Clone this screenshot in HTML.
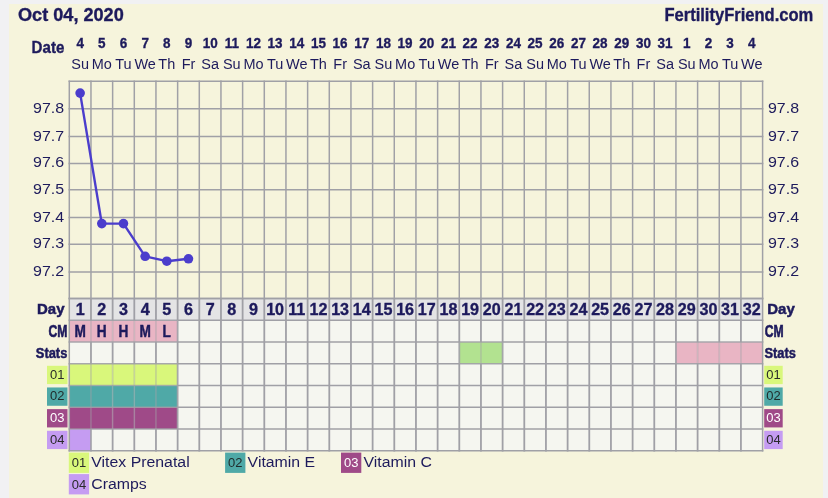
<!DOCTYPE html><html><head><meta charset="utf-8"><style>html,body{margin:0;padding:0}body{width:828px;height:498px;overflow:hidden;background:#f1f1f3;position:relative}svg{position:absolute;left:0;top:0;will-change:transform}text{font-family:"Liberation Sans",sans-serif}</style></head><body>
<svg width="828" height="498" viewBox="0 0 828 498">
<rect x="9" y="4" width="814" height="494" fill="#f6f4dc"/>
<rect x="69.30" y="298.60" width="693.30" height="152.18" fill="#f5f6f0"/>
<rect x="69.30" y="298.60" width="693.30" height="21.74" fill="#e4e4e5"/>
<rect x="69.30" y="320.34" width="21.67" height="21.74" fill="#e9b5c4"/>
<rect x="90.97" y="320.34" width="21.67" height="21.74" fill="#e9b5c4"/>
<rect x="112.63" y="320.34" width="21.67" height="21.74" fill="#e9b5c4"/>
<rect x="134.30" y="320.34" width="21.67" height="21.74" fill="#e9b5c4"/>
<rect x="155.96" y="320.34" width="21.67" height="21.74" fill="#e9b5c4"/>
<rect x="459.28" y="342.08" width="21.67" height="21.74" fill="#b2e290"/>
<rect x="480.95" y="342.08" width="21.67" height="21.74" fill="#b2e290"/>
<rect x="675.94" y="342.08" width="21.67" height="21.74" fill="#e9b5c4"/>
<rect x="697.60" y="342.08" width="21.67" height="21.74" fill="#e9b5c4"/>
<rect x="719.27" y="342.08" width="21.67" height="21.74" fill="#e9b5c4"/>
<rect x="740.93" y="342.08" width="21.67" height="21.74" fill="#e9b5c4"/>
<rect x="69.30" y="363.82" width="21.67" height="21.74" fill="#d9f77b"/>
<rect x="90.97" y="363.82" width="21.67" height="21.74" fill="#d9f77b"/>
<rect x="112.63" y="363.82" width="21.67" height="21.74" fill="#d9f77b"/>
<rect x="134.30" y="363.82" width="21.67" height="21.74" fill="#d9f77b"/>
<rect x="155.96" y="363.82" width="21.67" height="21.74" fill="#d9f77b"/>
<rect x="69.30" y="385.56" width="21.67" height="21.74" fill="#4fa9a7"/>
<rect x="90.97" y="385.56" width="21.67" height="21.74" fill="#4fa9a7"/>
<rect x="112.63" y="385.56" width="21.67" height="21.74" fill="#4fa9a7"/>
<rect x="134.30" y="385.56" width="21.67" height="21.74" fill="#4fa9a7"/>
<rect x="155.96" y="385.56" width="21.67" height="21.74" fill="#4fa9a7"/>
<rect x="69.30" y="407.30" width="21.67" height="21.74" fill="#9f4a88"/>
<rect x="90.97" y="407.30" width="21.67" height="21.74" fill="#9f4a88"/>
<rect x="112.63" y="407.30" width="21.67" height="21.74" fill="#9f4a88"/>
<rect x="134.30" y="407.30" width="21.67" height="21.74" fill="#9f4a88"/>
<rect x="155.96" y="407.30" width="21.67" height="21.74" fill="#9f4a88"/>
<rect x="69.30" y="429.04" width="21.67" height="21.74" fill="#c59cf2"/>
<line x1="68.55" y1="81.30" x2="763.35" y2="81.30" stroke="#a0a0a6" stroke-width="1.5"/>
<line x1="68.55" y1="108.80" x2="763.35" y2="108.80" stroke="#a0a0a6" stroke-width="1.5"/>
<line x1="68.55" y1="136.60" x2="763.35" y2="136.60" stroke="#a0a0a6" stroke-width="1.5"/>
<line x1="68.55" y1="163.40" x2="763.35" y2="163.40" stroke="#a0a0a6" stroke-width="1.5"/>
<line x1="68.55" y1="189.70" x2="763.35" y2="189.70" stroke="#a0a0a6" stroke-width="1.5"/>
<line x1="68.55" y1="217.50" x2="763.35" y2="217.50" stroke="#a0a0a6" stroke-width="1.5"/>
<line x1="68.55" y1="244.30" x2="763.35" y2="244.30" stroke="#a0a0a6" stroke-width="1.5"/>
<line x1="68.55" y1="271.90" x2="763.35" y2="271.90" stroke="#a0a0a6" stroke-width="1.5"/>
<line x1="68.55" y1="298.60" x2="763.35" y2="298.60" stroke="#a0a0a6" stroke-width="1.5"/>
<line x1="69.30" y1="80.55" x2="69.30" y2="298.60" stroke="#a0a0a6" stroke-width="1.5"/>
<line x1="90.97" y1="80.55" x2="90.97" y2="298.60" stroke="#a0a0a6" stroke-width="1.5"/>
<line x1="112.63" y1="80.55" x2="112.63" y2="298.60" stroke="#a0a0a6" stroke-width="1.5"/>
<line x1="134.30" y1="80.55" x2="134.30" y2="298.60" stroke="#a0a0a6" stroke-width="1.5"/>
<line x1="155.96" y1="80.55" x2="155.96" y2="298.60" stroke="#a0a0a6" stroke-width="1.5"/>
<line x1="177.63" y1="80.55" x2="177.63" y2="298.60" stroke="#a0a0a6" stroke-width="1.5"/>
<line x1="199.29" y1="80.55" x2="199.29" y2="298.60" stroke="#a0a0a6" stroke-width="1.5"/>
<line x1="220.96" y1="80.55" x2="220.96" y2="298.60" stroke="#a0a0a6" stroke-width="1.5"/>
<line x1="242.62" y1="80.55" x2="242.62" y2="298.60" stroke="#a0a0a6" stroke-width="1.5"/>
<line x1="264.29" y1="80.55" x2="264.29" y2="298.60" stroke="#a0a0a6" stroke-width="1.5"/>
<line x1="285.96" y1="80.55" x2="285.96" y2="298.60" stroke="#a0a0a6" stroke-width="1.5"/>
<line x1="307.62" y1="80.55" x2="307.62" y2="298.60" stroke="#a0a0a6" stroke-width="1.5"/>
<line x1="329.29" y1="80.55" x2="329.29" y2="298.60" stroke="#a0a0a6" stroke-width="1.5"/>
<line x1="350.95" y1="80.55" x2="350.95" y2="298.60" stroke="#a0a0a6" stroke-width="1.5"/>
<line x1="372.62" y1="80.55" x2="372.62" y2="298.60" stroke="#a0a0a6" stroke-width="1.5"/>
<line x1="394.28" y1="80.55" x2="394.28" y2="298.60" stroke="#a0a0a6" stroke-width="1.5"/>
<line x1="415.95" y1="80.55" x2="415.95" y2="298.60" stroke="#a0a0a6" stroke-width="1.5"/>
<line x1="437.62" y1="80.55" x2="437.62" y2="298.60" stroke="#a0a0a6" stroke-width="1.5"/>
<line x1="459.28" y1="80.55" x2="459.28" y2="298.60" stroke="#a0a0a6" stroke-width="1.5"/>
<line x1="480.95" y1="80.55" x2="480.95" y2="298.60" stroke="#a0a0a6" stroke-width="1.5"/>
<line x1="502.61" y1="80.55" x2="502.61" y2="298.60" stroke="#a0a0a6" stroke-width="1.5"/>
<line x1="524.28" y1="80.55" x2="524.28" y2="298.60" stroke="#a0a0a6" stroke-width="1.5"/>
<line x1="545.94" y1="80.55" x2="545.94" y2="298.60" stroke="#a0a0a6" stroke-width="1.5"/>
<line x1="567.61" y1="80.55" x2="567.61" y2="298.60" stroke="#a0a0a6" stroke-width="1.5"/>
<line x1="589.27" y1="80.55" x2="589.27" y2="298.60" stroke="#a0a0a6" stroke-width="1.5"/>
<line x1="610.94" y1="80.55" x2="610.94" y2="298.60" stroke="#a0a0a6" stroke-width="1.5"/>
<line x1="632.61" y1="80.55" x2="632.61" y2="298.60" stroke="#a0a0a6" stroke-width="1.5"/>
<line x1="654.27" y1="80.55" x2="654.27" y2="298.60" stroke="#a0a0a6" stroke-width="1.5"/>
<line x1="675.94" y1="80.55" x2="675.94" y2="298.60" stroke="#a0a0a6" stroke-width="1.5"/>
<line x1="697.60" y1="80.55" x2="697.60" y2="298.60" stroke="#a0a0a6" stroke-width="1.5"/>
<line x1="719.27" y1="80.55" x2="719.27" y2="298.60" stroke="#a0a0a6" stroke-width="1.5"/>
<line x1="740.93" y1="80.55" x2="740.93" y2="298.60" stroke="#a0a0a6" stroke-width="1.5"/>
<line x1="762.60" y1="80.55" x2="762.60" y2="298.60" stroke="#a0a0a6" stroke-width="1.5"/>
<line x1="68.55" y1="298.60" x2="763.35" y2="298.60" stroke="#a0a0a6" stroke-width="1.5"/>
<line x1="68.55" y1="320.34" x2="177.63" y2="320.34" stroke="#a0a0a6" stroke-width="1.5" stroke-opacity="0.90"/>
<line x1="177.63" y1="320.34" x2="763.35" y2="320.34" stroke="#a0a0a6" stroke-width="1.5"/>
<line x1="68.55" y1="342.08" x2="177.63" y2="342.08" stroke="#a0a0a6" stroke-width="1.5" stroke-opacity="0.90"/>
<line x1="177.63" y1="342.08" x2="459.28" y2="342.08" stroke="#a0a0a6" stroke-width="1.5"/>
<line x1="459.28" y1="342.08" x2="502.61" y2="342.08" stroke="#a0a0a6" stroke-width="1.5" stroke-opacity="0.90"/>
<line x1="502.61" y1="342.08" x2="675.94" y2="342.08" stroke="#a0a0a6" stroke-width="1.5"/>
<line x1="675.94" y1="342.08" x2="763.35" y2="342.08" stroke="#a0a0a6" stroke-width="1.5" stroke-opacity="0.90"/>
<line x1="68.55" y1="363.82" x2="177.63" y2="363.82" stroke="#a0a0a6" stroke-width="1.5" stroke-opacity="0.90"/>
<line x1="177.63" y1="363.82" x2="459.28" y2="363.82" stroke="#a0a0a6" stroke-width="1.5"/>
<line x1="459.28" y1="363.82" x2="502.61" y2="363.82" stroke="#a0a0a6" stroke-width="1.5" stroke-opacity="0.90"/>
<line x1="502.61" y1="363.82" x2="675.94" y2="363.82" stroke="#a0a0a6" stroke-width="1.5"/>
<line x1="675.94" y1="363.82" x2="763.35" y2="363.82" stroke="#a0a0a6" stroke-width="1.5" stroke-opacity="0.90"/>
<line x1="68.55" y1="385.56" x2="177.63" y2="385.56" stroke="#a0a0a6" stroke-width="1.5" stroke-opacity="0.75"/>
<line x1="177.63" y1="385.56" x2="763.35" y2="385.56" stroke="#a0a0a6" stroke-width="1.5"/>
<line x1="68.55" y1="407.30" x2="177.63" y2="407.30" stroke="#a0a0a6" stroke-width="1.5" stroke-opacity="0.75"/>
<line x1="177.63" y1="407.30" x2="763.35" y2="407.30" stroke="#a0a0a6" stroke-width="1.5"/>
<line x1="68.55" y1="429.04" x2="90.97" y2="429.04" stroke="#a0a0a6" stroke-width="1.5" stroke-opacity="0.75"/>
<line x1="90.97" y1="429.04" x2="177.63" y2="429.04" stroke="#a0a0a6" stroke-width="1.5" stroke-opacity="0.90"/>
<line x1="177.63" y1="429.04" x2="763.35" y2="429.04" stroke="#a0a0a6" stroke-width="1.5"/>
<line x1="68.55" y1="450.78" x2="763.35" y2="450.78" stroke="#a0a0a6" stroke-width="1.5"/>
<line x1="69.30" y1="298.60" x2="69.30" y2="451.53" stroke="#a0a0a6" stroke-width="1.5"/>
<line x1="90.97" y1="298.60" x2="90.97" y2="320.34" stroke="#a0a0a6" stroke-width="1.8"/>
<line x1="90.97" y1="320.34" x2="90.97" y2="342.08" stroke="#a0a0a6" stroke-width="1.8" stroke-opacity="0.40"/>
<line x1="90.97" y1="342.08" x2="90.97" y2="363.82" stroke="#a0a0a6" stroke-width="1.8"/>
<line x1="90.97" y1="363.82" x2="90.97" y2="429.04" stroke="#a0a0a6" stroke-width="1.8" stroke-opacity="0.40"/>
<line x1="90.97" y1="429.04" x2="90.97" y2="451.53" stroke="#a0a0a6" stroke-width="1.8" stroke-opacity="0.90"/>
<line x1="112.63" y1="298.60" x2="112.63" y2="320.34" stroke="#a0a0a6" stroke-width="1.8"/>
<line x1="112.63" y1="320.34" x2="112.63" y2="342.08" stroke="#a0a0a6" stroke-width="1.8" stroke-opacity="0.40"/>
<line x1="112.63" y1="342.08" x2="112.63" y2="363.82" stroke="#a0a0a6" stroke-width="1.8"/>
<line x1="112.63" y1="363.82" x2="112.63" y2="429.04" stroke="#a0a0a6" stroke-width="1.8" stroke-opacity="0.40"/>
<line x1="112.63" y1="429.04" x2="112.63" y2="451.53" stroke="#a0a0a6" stroke-width="1.8"/>
<line x1="134.30" y1="298.60" x2="134.30" y2="320.34" stroke="#a0a0a6" stroke-width="1.8"/>
<line x1="134.30" y1="320.34" x2="134.30" y2="342.08" stroke="#a0a0a6" stroke-width="1.8" stroke-opacity="0.40"/>
<line x1="134.30" y1="342.08" x2="134.30" y2="363.82" stroke="#a0a0a6" stroke-width="1.8"/>
<line x1="134.30" y1="363.82" x2="134.30" y2="429.04" stroke="#a0a0a6" stroke-width="1.8" stroke-opacity="0.40"/>
<line x1="134.30" y1="429.04" x2="134.30" y2="451.53" stroke="#a0a0a6" stroke-width="1.8"/>
<line x1="155.96" y1="298.60" x2="155.96" y2="320.34" stroke="#a0a0a6" stroke-width="1.8"/>
<line x1="155.96" y1="320.34" x2="155.96" y2="342.08" stroke="#a0a0a6" stroke-width="1.8" stroke-opacity="0.40"/>
<line x1="155.96" y1="342.08" x2="155.96" y2="363.82" stroke="#a0a0a6" stroke-width="1.8"/>
<line x1="155.96" y1="363.82" x2="155.96" y2="429.04" stroke="#a0a0a6" stroke-width="1.8" stroke-opacity="0.40"/>
<line x1="155.96" y1="429.04" x2="155.96" y2="451.53" stroke="#a0a0a6" stroke-width="1.8"/>
<line x1="177.63" y1="298.60" x2="177.63" y2="320.34" stroke="#a0a0a6" stroke-width="1.8"/>
<line x1="177.63" y1="320.34" x2="177.63" y2="342.08" stroke="#a0a0a6" stroke-width="1.8" stroke-opacity="0.90"/>
<line x1="177.63" y1="342.08" x2="177.63" y2="363.82" stroke="#a0a0a6" stroke-width="1.8"/>
<line x1="177.63" y1="363.82" x2="177.63" y2="429.04" stroke="#a0a0a6" stroke-width="1.8" stroke-opacity="0.90"/>
<line x1="177.63" y1="429.04" x2="177.63" y2="451.53" stroke="#a0a0a6" stroke-width="1.8"/>
<line x1="199.29" y1="298.60" x2="199.29" y2="451.53" stroke="#a0a0a6" stroke-width="1.8"/>
<line x1="220.96" y1="298.60" x2="220.96" y2="451.53" stroke="#a0a0a6" stroke-width="1.8"/>
<line x1="242.62" y1="298.60" x2="242.62" y2="451.53" stroke="#a0a0a6" stroke-width="1.8"/>
<line x1="264.29" y1="298.60" x2="264.29" y2="451.53" stroke="#a0a0a6" stroke-width="1.8"/>
<line x1="285.96" y1="298.60" x2="285.96" y2="451.53" stroke="#a0a0a6" stroke-width="1.8"/>
<line x1="307.62" y1="298.60" x2="307.62" y2="451.53" stroke="#a0a0a6" stroke-width="1.8"/>
<line x1="329.29" y1="298.60" x2="329.29" y2="451.53" stroke="#a0a0a6" stroke-width="1.8"/>
<line x1="350.95" y1="298.60" x2="350.95" y2="451.53" stroke="#a0a0a6" stroke-width="1.8"/>
<line x1="372.62" y1="298.60" x2="372.62" y2="451.53" stroke="#a0a0a6" stroke-width="1.8"/>
<line x1="394.28" y1="298.60" x2="394.28" y2="451.53" stroke="#a0a0a6" stroke-width="1.8"/>
<line x1="415.95" y1="298.60" x2="415.95" y2="451.53" stroke="#a0a0a6" stroke-width="1.8"/>
<line x1="437.62" y1="298.60" x2="437.62" y2="451.53" stroke="#a0a0a6" stroke-width="1.8"/>
<line x1="459.28" y1="298.60" x2="459.28" y2="342.08" stroke="#a0a0a6" stroke-width="1.8"/>
<line x1="459.28" y1="342.08" x2="459.28" y2="363.82" stroke="#a0a0a6" stroke-width="1.8" stroke-opacity="0.90"/>
<line x1="459.28" y1="363.82" x2="459.28" y2="451.53" stroke="#a0a0a6" stroke-width="1.8"/>
<line x1="480.95" y1="298.60" x2="480.95" y2="342.08" stroke="#a0a0a6" stroke-width="1.8"/>
<line x1="480.95" y1="342.08" x2="480.95" y2="363.82" stroke="#a0a0a6" stroke-width="1.8" stroke-opacity="0.40"/>
<line x1="480.95" y1="363.82" x2="480.95" y2="451.53" stroke="#a0a0a6" stroke-width="1.8"/>
<line x1="502.61" y1="298.60" x2="502.61" y2="342.08" stroke="#a0a0a6" stroke-width="1.8"/>
<line x1="502.61" y1="342.08" x2="502.61" y2="363.82" stroke="#a0a0a6" stroke-width="1.8" stroke-opacity="0.90"/>
<line x1="502.61" y1="363.82" x2="502.61" y2="451.53" stroke="#a0a0a6" stroke-width="1.8"/>
<line x1="524.28" y1="298.60" x2="524.28" y2="451.53" stroke="#a0a0a6" stroke-width="1.8"/>
<line x1="545.94" y1="298.60" x2="545.94" y2="451.53" stroke="#a0a0a6" stroke-width="1.8"/>
<line x1="567.61" y1="298.60" x2="567.61" y2="451.53" stroke="#a0a0a6" stroke-width="1.8"/>
<line x1="589.27" y1="298.60" x2="589.27" y2="451.53" stroke="#a0a0a6" stroke-width="1.8"/>
<line x1="610.94" y1="298.60" x2="610.94" y2="451.53" stroke="#a0a0a6" stroke-width="1.8"/>
<line x1="632.61" y1="298.60" x2="632.61" y2="451.53" stroke="#a0a0a6" stroke-width="1.8"/>
<line x1="654.27" y1="298.60" x2="654.27" y2="451.53" stroke="#a0a0a6" stroke-width="1.8"/>
<line x1="675.94" y1="298.60" x2="675.94" y2="342.08" stroke="#a0a0a6" stroke-width="1.8"/>
<line x1="675.94" y1="342.08" x2="675.94" y2="363.82" stroke="#a0a0a6" stroke-width="1.8" stroke-opacity="0.90"/>
<line x1="675.94" y1="363.82" x2="675.94" y2="451.53" stroke="#a0a0a6" stroke-width="1.8"/>
<line x1="697.60" y1="298.60" x2="697.60" y2="342.08" stroke="#a0a0a6" stroke-width="1.8"/>
<line x1="697.60" y1="342.08" x2="697.60" y2="363.82" stroke="#a0a0a6" stroke-width="1.8" stroke-opacity="0.40"/>
<line x1="697.60" y1="363.82" x2="697.60" y2="451.53" stroke="#a0a0a6" stroke-width="1.8"/>
<line x1="719.27" y1="298.60" x2="719.27" y2="342.08" stroke="#a0a0a6" stroke-width="1.8"/>
<line x1="719.27" y1="342.08" x2="719.27" y2="363.82" stroke="#a0a0a6" stroke-width="1.8" stroke-opacity="0.40"/>
<line x1="719.27" y1="363.82" x2="719.27" y2="451.53" stroke="#a0a0a6" stroke-width="1.8"/>
<line x1="740.93" y1="298.60" x2="740.93" y2="342.08" stroke="#a0a0a6" stroke-width="1.8"/>
<line x1="740.93" y1="342.08" x2="740.93" y2="363.82" stroke="#a0a0a6" stroke-width="1.8" stroke-opacity="0.40"/>
<line x1="740.93" y1="363.82" x2="740.93" y2="451.53" stroke="#a0a0a6" stroke-width="1.8"/>
<line x1="762.60" y1="298.60" x2="762.60" y2="451.53" stroke="#a0a0a6" stroke-width="1.5"/>
<polyline points="80.13,93.10 101.80,223.60 123.46,223.60 145.13,256.30 166.80,261.20 188.46,258.80" fill="none" stroke="#4b3dcc" stroke-width="2.4" stroke-linejoin="round"/>
<circle cx="80.13" cy="93.10" r="4.8" fill="#4b3dcc"/>
<circle cx="101.80" cy="223.60" r="4.8" fill="#4b3dcc"/>
<circle cx="123.46" cy="223.60" r="4.8" fill="#4b3dcc"/>
<circle cx="145.13" cy="256.30" r="4.8" fill="#4b3dcc"/>
<circle cx="166.80" cy="261.20" r="4.8" fill="#4b3dcc"/>
<circle cx="188.46" cy="258.80" r="4.8" fill="#4b3dcc"/>
<text transform="translate(18.00 21.30) scale(1.0130 1)" font-size="17.90" font-weight="bold" text-anchor="start" fill="#1d1a5c" stroke="#1d1a5c" stroke-width="0.35">Oct 04, 2020</text>
<text transform="translate(813.30 21.40) scale(0.9400 1)" font-size="17.60" font-weight="bold" text-anchor="end" fill="#1d1a5c" stroke="#1d1a5c" stroke-width="0.35">FertilityFriend.com</text>
<text transform="translate(64.40 52.80) scale(0.9120 1)" font-size="16.60" font-weight="bold" text-anchor="end" fill="#1d1a5c" stroke="#1d1a5c" stroke-width="0.35">Date</text>
<text transform="translate(80.13 47.50) scale(0.8700 1)" font-size="15.50" font-weight="bold" text-anchor="middle" fill="#1d1a5c" stroke="#1d1a5c" stroke-width="0.35">4</text>
<text transform="translate(80.13 68.80) scale(0.9530 1)" font-size="15.20" font-weight="normal" text-anchor="middle" fill="#1d1a5c">Su</text>
<text transform="translate(101.80 47.50) scale(0.8700 1)" font-size="15.50" font-weight="bold" text-anchor="middle" fill="#1d1a5c" stroke="#1d1a5c" stroke-width="0.35">5</text>
<text transform="translate(101.80 68.80) scale(0.9530 1)" font-size="15.20" font-weight="normal" text-anchor="middle" fill="#1d1a5c">Mo</text>
<text transform="translate(123.46 47.50) scale(0.8700 1)" font-size="15.50" font-weight="bold" text-anchor="middle" fill="#1d1a5c" stroke="#1d1a5c" stroke-width="0.35">6</text>
<text transform="translate(123.46 68.80) scale(0.9530 1)" font-size="15.20" font-weight="normal" text-anchor="middle" fill="#1d1a5c">Tu</text>
<text transform="translate(145.13 47.50) scale(0.8700 1)" font-size="15.50" font-weight="bold" text-anchor="middle" fill="#1d1a5c" stroke="#1d1a5c" stroke-width="0.35">7</text>
<text transform="translate(145.13 68.80) scale(0.9530 1)" font-size="15.20" font-weight="normal" text-anchor="middle" fill="#1d1a5c">We</text>
<text transform="translate(166.80 47.50) scale(0.8700 1)" font-size="15.50" font-weight="bold" text-anchor="middle" fill="#1d1a5c" stroke="#1d1a5c" stroke-width="0.35">8</text>
<text transform="translate(166.80 68.80) scale(0.9530 1)" font-size="15.20" font-weight="normal" text-anchor="middle" fill="#1d1a5c">Th</text>
<text transform="translate(188.46 47.50) scale(0.8700 1)" font-size="15.50" font-weight="bold" text-anchor="middle" fill="#1d1a5c" stroke="#1d1a5c" stroke-width="0.35">9</text>
<text transform="translate(188.46 68.80) scale(0.9530 1)" font-size="15.20" font-weight="normal" text-anchor="middle" fill="#1d1a5c">Fr</text>
<text transform="translate(210.13 47.50) scale(0.8700 1)" font-size="15.50" font-weight="bold" text-anchor="middle" fill="#1d1a5c" stroke="#1d1a5c" stroke-width="0.35">10</text>
<text transform="translate(210.13 68.80) scale(0.9530 1)" font-size="15.20" font-weight="normal" text-anchor="middle" fill="#1d1a5c">Sa</text>
<text transform="translate(231.79 47.50) scale(0.8700 1)" font-size="15.50" font-weight="bold" text-anchor="middle" fill="#1d1a5c" stroke="#1d1a5c" stroke-width="0.35">11</text>
<text transform="translate(231.79 68.80) scale(0.9530 1)" font-size="15.20" font-weight="normal" text-anchor="middle" fill="#1d1a5c">Su</text>
<text transform="translate(253.46 47.50) scale(0.8700 1)" font-size="15.50" font-weight="bold" text-anchor="middle" fill="#1d1a5c" stroke="#1d1a5c" stroke-width="0.35">12</text>
<text transform="translate(253.46 68.80) scale(0.9530 1)" font-size="15.20" font-weight="normal" text-anchor="middle" fill="#1d1a5c">Mo</text>
<text transform="translate(275.12 47.50) scale(0.8700 1)" font-size="15.50" font-weight="bold" text-anchor="middle" fill="#1d1a5c" stroke="#1d1a5c" stroke-width="0.35">13</text>
<text transform="translate(275.12 68.80) scale(0.9530 1)" font-size="15.20" font-weight="normal" text-anchor="middle" fill="#1d1a5c">Tu</text>
<text transform="translate(296.79 47.50) scale(0.8700 1)" font-size="15.50" font-weight="bold" text-anchor="middle" fill="#1d1a5c" stroke="#1d1a5c" stroke-width="0.35">14</text>
<text transform="translate(296.79 68.80) scale(0.9530 1)" font-size="15.20" font-weight="normal" text-anchor="middle" fill="#1d1a5c">We</text>
<text transform="translate(318.45 47.50) scale(0.8700 1)" font-size="15.50" font-weight="bold" text-anchor="middle" fill="#1d1a5c" stroke="#1d1a5c" stroke-width="0.35">15</text>
<text transform="translate(318.45 68.80) scale(0.9530 1)" font-size="15.20" font-weight="normal" text-anchor="middle" fill="#1d1a5c">Th</text>
<text transform="translate(340.12 47.50) scale(0.8700 1)" font-size="15.50" font-weight="bold" text-anchor="middle" fill="#1d1a5c" stroke="#1d1a5c" stroke-width="0.35">16</text>
<text transform="translate(340.12 68.80) scale(0.9530 1)" font-size="15.20" font-weight="normal" text-anchor="middle" fill="#1d1a5c">Fr</text>
<text transform="translate(361.79 47.50) scale(0.8700 1)" font-size="15.50" font-weight="bold" text-anchor="middle" fill="#1d1a5c" stroke="#1d1a5c" stroke-width="0.35">17</text>
<text transform="translate(361.79 68.80) scale(0.9530 1)" font-size="15.20" font-weight="normal" text-anchor="middle" fill="#1d1a5c">Sa</text>
<text transform="translate(383.45 47.50) scale(0.8700 1)" font-size="15.50" font-weight="bold" text-anchor="middle" fill="#1d1a5c" stroke="#1d1a5c" stroke-width="0.35">18</text>
<text transform="translate(383.45 68.80) scale(0.9530 1)" font-size="15.20" font-weight="normal" text-anchor="middle" fill="#1d1a5c">Su</text>
<text transform="translate(405.12 47.50) scale(0.8700 1)" font-size="15.50" font-weight="bold" text-anchor="middle" fill="#1d1a5c" stroke="#1d1a5c" stroke-width="0.35">19</text>
<text transform="translate(405.12 68.80) scale(0.9530 1)" font-size="15.20" font-weight="normal" text-anchor="middle" fill="#1d1a5c">Mo</text>
<text transform="translate(426.78 47.50) scale(0.8700 1)" font-size="15.50" font-weight="bold" text-anchor="middle" fill="#1d1a5c" stroke="#1d1a5c" stroke-width="0.35">20</text>
<text transform="translate(426.78 68.80) scale(0.9530 1)" font-size="15.20" font-weight="normal" text-anchor="middle" fill="#1d1a5c">Tu</text>
<text transform="translate(448.45 47.50) scale(0.8700 1)" font-size="15.50" font-weight="bold" text-anchor="middle" fill="#1d1a5c" stroke="#1d1a5c" stroke-width="0.35">21</text>
<text transform="translate(448.45 68.80) scale(0.9530 1)" font-size="15.20" font-weight="normal" text-anchor="middle" fill="#1d1a5c">We</text>
<text transform="translate(470.11 47.50) scale(0.8700 1)" font-size="15.50" font-weight="bold" text-anchor="middle" fill="#1d1a5c" stroke="#1d1a5c" stroke-width="0.35">22</text>
<text transform="translate(470.11 68.80) scale(0.9530 1)" font-size="15.20" font-weight="normal" text-anchor="middle" fill="#1d1a5c">Th</text>
<text transform="translate(491.78 47.50) scale(0.8700 1)" font-size="15.50" font-weight="bold" text-anchor="middle" fill="#1d1a5c" stroke="#1d1a5c" stroke-width="0.35">23</text>
<text transform="translate(491.78 68.80) scale(0.9530 1)" font-size="15.20" font-weight="normal" text-anchor="middle" fill="#1d1a5c">Fr</text>
<text transform="translate(513.45 47.50) scale(0.8700 1)" font-size="15.50" font-weight="bold" text-anchor="middle" fill="#1d1a5c" stroke="#1d1a5c" stroke-width="0.35">24</text>
<text transform="translate(513.45 68.80) scale(0.9530 1)" font-size="15.20" font-weight="normal" text-anchor="middle" fill="#1d1a5c">Sa</text>
<text transform="translate(535.11 47.50) scale(0.8700 1)" font-size="15.50" font-weight="bold" text-anchor="middle" fill="#1d1a5c" stroke="#1d1a5c" stroke-width="0.35">25</text>
<text transform="translate(535.11 68.80) scale(0.9530 1)" font-size="15.20" font-weight="normal" text-anchor="middle" fill="#1d1a5c">Su</text>
<text transform="translate(556.78 47.50) scale(0.8700 1)" font-size="15.50" font-weight="bold" text-anchor="middle" fill="#1d1a5c" stroke="#1d1a5c" stroke-width="0.35">26</text>
<text transform="translate(556.78 68.80) scale(0.9530 1)" font-size="15.20" font-weight="normal" text-anchor="middle" fill="#1d1a5c">Mo</text>
<text transform="translate(578.44 47.50) scale(0.8700 1)" font-size="15.50" font-weight="bold" text-anchor="middle" fill="#1d1a5c" stroke="#1d1a5c" stroke-width="0.35">27</text>
<text transform="translate(578.44 68.80) scale(0.9530 1)" font-size="15.20" font-weight="normal" text-anchor="middle" fill="#1d1a5c">Tu</text>
<text transform="translate(600.11 47.50) scale(0.8700 1)" font-size="15.50" font-weight="bold" text-anchor="middle" fill="#1d1a5c" stroke="#1d1a5c" stroke-width="0.35">28</text>
<text transform="translate(600.11 68.80) scale(0.9530 1)" font-size="15.20" font-weight="normal" text-anchor="middle" fill="#1d1a5c">We</text>
<text transform="translate(621.77 47.50) scale(0.8700 1)" font-size="15.50" font-weight="bold" text-anchor="middle" fill="#1d1a5c" stroke="#1d1a5c" stroke-width="0.35">29</text>
<text transform="translate(621.77 68.80) scale(0.9530 1)" font-size="15.20" font-weight="normal" text-anchor="middle" fill="#1d1a5c">Th</text>
<text transform="translate(643.44 47.50) scale(0.8700 1)" font-size="15.50" font-weight="bold" text-anchor="middle" fill="#1d1a5c" stroke="#1d1a5c" stroke-width="0.35">30</text>
<text transform="translate(643.44 68.80) scale(0.9530 1)" font-size="15.20" font-weight="normal" text-anchor="middle" fill="#1d1a5c">Fr</text>
<text transform="translate(665.10 47.50) scale(0.8700 1)" font-size="15.50" font-weight="bold" text-anchor="middle" fill="#1d1a5c" stroke="#1d1a5c" stroke-width="0.35">31</text>
<text transform="translate(665.10 68.80) scale(0.9530 1)" font-size="15.20" font-weight="normal" text-anchor="middle" fill="#1d1a5c">Sa</text>
<text transform="translate(686.77 47.50) scale(0.8700 1)" font-size="15.50" font-weight="bold" text-anchor="middle" fill="#1d1a5c" stroke="#1d1a5c" stroke-width="0.35">1</text>
<text transform="translate(686.77 68.80) scale(0.9530 1)" font-size="15.20" font-weight="normal" text-anchor="middle" fill="#1d1a5c">Su</text>
<text transform="translate(708.44 47.50) scale(0.8700 1)" font-size="15.50" font-weight="bold" text-anchor="middle" fill="#1d1a5c" stroke="#1d1a5c" stroke-width="0.35">2</text>
<text transform="translate(708.44 68.80) scale(0.9530 1)" font-size="15.20" font-weight="normal" text-anchor="middle" fill="#1d1a5c">Mo</text>
<text transform="translate(730.10 47.50) scale(0.8700 1)" font-size="15.50" font-weight="bold" text-anchor="middle" fill="#1d1a5c" stroke="#1d1a5c" stroke-width="0.35">3</text>
<text transform="translate(730.10 68.80) scale(0.9530 1)" font-size="15.20" font-weight="normal" text-anchor="middle" fill="#1d1a5c">Tu</text>
<text transform="translate(751.77 47.50) scale(0.8700 1)" font-size="15.50" font-weight="bold" text-anchor="middle" fill="#1d1a5c" stroke="#1d1a5c" stroke-width="0.35">4</text>
<text transform="translate(751.77 68.80) scale(0.9530 1)" font-size="15.20" font-weight="normal" text-anchor="middle" fill="#1d1a5c">We</text>
<text transform="translate(64.10 112.80) scale(1.0500 1)" font-size="15.20" font-weight="normal" text-anchor="end" fill="#1d1a5c">97.8</text>
<text transform="translate(768.00 112.80) scale(1.0500 1)" font-size="15.20" font-weight="normal" text-anchor="start" fill="#1d1a5c">97.8</text>
<text transform="translate(64.10 140.60) scale(1.0500 1)" font-size="15.20" font-weight="normal" text-anchor="end" fill="#1d1a5c">97.7</text>
<text transform="translate(768.00 140.60) scale(1.0500 1)" font-size="15.20" font-weight="normal" text-anchor="start" fill="#1d1a5c">97.7</text>
<text transform="translate(64.10 167.40) scale(1.0500 1)" font-size="15.20" font-weight="normal" text-anchor="end" fill="#1d1a5c">97.6</text>
<text transform="translate(768.00 167.40) scale(1.0500 1)" font-size="15.20" font-weight="normal" text-anchor="start" fill="#1d1a5c">97.6</text>
<text transform="translate(64.10 193.70) scale(1.0500 1)" font-size="15.20" font-weight="normal" text-anchor="end" fill="#1d1a5c">97.5</text>
<text transform="translate(768.00 193.70) scale(1.0500 1)" font-size="15.20" font-weight="normal" text-anchor="start" fill="#1d1a5c">97.5</text>
<text transform="translate(64.10 221.50) scale(1.0500 1)" font-size="15.20" font-weight="normal" text-anchor="end" fill="#1d1a5c">97.4</text>
<text transform="translate(768.00 221.50) scale(1.0500 1)" font-size="15.20" font-weight="normal" text-anchor="start" fill="#1d1a5c">97.4</text>
<text transform="translate(64.10 248.30) scale(1.0500 1)" font-size="15.20" font-weight="normal" text-anchor="end" fill="#1d1a5c">97.3</text>
<text transform="translate(768.00 248.30) scale(1.0500 1)" font-size="15.20" font-weight="normal" text-anchor="start" fill="#1d1a5c">97.3</text>
<text transform="translate(64.10 275.90) scale(1.0500 1)" font-size="15.20" font-weight="normal" text-anchor="end" fill="#1d1a5c">97.2</text>
<text transform="translate(768.00 275.90) scale(1.0500 1)" font-size="15.20" font-weight="normal" text-anchor="start" fill="#1d1a5c">97.2</text>
<text transform="translate(80.13 315.00) scale(0.9500 1)" font-size="17.00" font-weight="bold" text-anchor="middle" fill="#1d1a5c" stroke="#1d1a5c" stroke-width="0.35">1</text>
<text transform="translate(101.80 315.00) scale(0.9500 1)" font-size="17.00" font-weight="bold" text-anchor="middle" fill="#1d1a5c" stroke="#1d1a5c" stroke-width="0.35">2</text>
<text transform="translate(123.46 315.00) scale(0.9500 1)" font-size="17.00" font-weight="bold" text-anchor="middle" fill="#1d1a5c" stroke="#1d1a5c" stroke-width="0.35">3</text>
<text transform="translate(145.13 315.00) scale(0.9500 1)" font-size="17.00" font-weight="bold" text-anchor="middle" fill="#1d1a5c" stroke="#1d1a5c" stroke-width="0.35">4</text>
<text transform="translate(166.80 315.00) scale(0.9500 1)" font-size="17.00" font-weight="bold" text-anchor="middle" fill="#1d1a5c" stroke="#1d1a5c" stroke-width="0.35">5</text>
<text transform="translate(188.46 315.00) scale(0.9500 1)" font-size="17.00" font-weight="bold" text-anchor="middle" fill="#1d1a5c" stroke="#1d1a5c" stroke-width="0.35">6</text>
<text transform="translate(210.13 315.00) scale(0.9500 1)" font-size="17.00" font-weight="bold" text-anchor="middle" fill="#1d1a5c" stroke="#1d1a5c" stroke-width="0.35">7</text>
<text transform="translate(231.79 315.00) scale(0.9500 1)" font-size="17.00" font-weight="bold" text-anchor="middle" fill="#1d1a5c" stroke="#1d1a5c" stroke-width="0.35">8</text>
<text transform="translate(253.46 315.00) scale(0.9500 1)" font-size="17.00" font-weight="bold" text-anchor="middle" fill="#1d1a5c" stroke="#1d1a5c" stroke-width="0.35">9</text>
<text transform="translate(275.12 315.00) scale(0.9500 1)" font-size="17.00" font-weight="bold" text-anchor="middle" fill="#1d1a5c" stroke="#1d1a5c" stroke-width="0.35">10</text>
<text transform="translate(296.79 315.00) scale(0.9500 1)" font-size="17.00" font-weight="bold" text-anchor="middle" fill="#1d1a5c" stroke="#1d1a5c" stroke-width="0.35">11</text>
<text transform="translate(318.45 315.00) scale(0.9500 1)" font-size="17.00" font-weight="bold" text-anchor="middle" fill="#1d1a5c" stroke="#1d1a5c" stroke-width="0.35">12</text>
<text transform="translate(340.12 315.00) scale(0.9500 1)" font-size="17.00" font-weight="bold" text-anchor="middle" fill="#1d1a5c" stroke="#1d1a5c" stroke-width="0.35">13</text>
<text transform="translate(361.79 315.00) scale(0.9500 1)" font-size="17.00" font-weight="bold" text-anchor="middle" fill="#1d1a5c" stroke="#1d1a5c" stroke-width="0.35">14</text>
<text transform="translate(383.45 315.00) scale(0.9500 1)" font-size="17.00" font-weight="bold" text-anchor="middle" fill="#1d1a5c" stroke="#1d1a5c" stroke-width="0.35">15</text>
<text transform="translate(405.12 315.00) scale(0.9500 1)" font-size="17.00" font-weight="bold" text-anchor="middle" fill="#1d1a5c" stroke="#1d1a5c" stroke-width="0.35">16</text>
<text transform="translate(426.78 315.00) scale(0.9500 1)" font-size="17.00" font-weight="bold" text-anchor="middle" fill="#1d1a5c" stroke="#1d1a5c" stroke-width="0.35">17</text>
<text transform="translate(448.45 315.00) scale(0.9500 1)" font-size="17.00" font-weight="bold" text-anchor="middle" fill="#1d1a5c" stroke="#1d1a5c" stroke-width="0.35">18</text>
<text transform="translate(470.11 315.00) scale(0.9500 1)" font-size="17.00" font-weight="bold" text-anchor="middle" fill="#1d1a5c" stroke="#1d1a5c" stroke-width="0.35">19</text>
<text transform="translate(491.78 315.00) scale(0.9500 1)" font-size="17.00" font-weight="bold" text-anchor="middle" fill="#1d1a5c" stroke="#1d1a5c" stroke-width="0.35">20</text>
<text transform="translate(513.45 315.00) scale(0.9500 1)" font-size="17.00" font-weight="bold" text-anchor="middle" fill="#1d1a5c" stroke="#1d1a5c" stroke-width="0.35">21</text>
<text transform="translate(535.11 315.00) scale(0.9500 1)" font-size="17.00" font-weight="bold" text-anchor="middle" fill="#1d1a5c" stroke="#1d1a5c" stroke-width="0.35">22</text>
<text transform="translate(556.78 315.00) scale(0.9500 1)" font-size="17.00" font-weight="bold" text-anchor="middle" fill="#1d1a5c" stroke="#1d1a5c" stroke-width="0.35">23</text>
<text transform="translate(578.44 315.00) scale(0.9500 1)" font-size="17.00" font-weight="bold" text-anchor="middle" fill="#1d1a5c" stroke="#1d1a5c" stroke-width="0.35">24</text>
<text transform="translate(600.11 315.00) scale(0.9500 1)" font-size="17.00" font-weight="bold" text-anchor="middle" fill="#1d1a5c" stroke="#1d1a5c" stroke-width="0.35">25</text>
<text transform="translate(621.77 315.00) scale(0.9500 1)" font-size="17.00" font-weight="bold" text-anchor="middle" fill="#1d1a5c" stroke="#1d1a5c" stroke-width="0.35">26</text>
<text transform="translate(643.44 315.00) scale(0.9500 1)" font-size="17.00" font-weight="bold" text-anchor="middle" fill="#1d1a5c" stroke="#1d1a5c" stroke-width="0.35">27</text>
<text transform="translate(665.10 315.00) scale(0.9500 1)" font-size="17.00" font-weight="bold" text-anchor="middle" fill="#1d1a5c" stroke="#1d1a5c" stroke-width="0.35">28</text>
<text transform="translate(686.77 315.00) scale(0.9500 1)" font-size="17.00" font-weight="bold" text-anchor="middle" fill="#1d1a5c" stroke="#1d1a5c" stroke-width="0.35">29</text>
<text transform="translate(708.44 315.00) scale(0.9500 1)" font-size="17.00" font-weight="bold" text-anchor="middle" fill="#1d1a5c" stroke="#1d1a5c" stroke-width="0.35">30</text>
<text transform="translate(730.10 315.00) scale(0.9500 1)" font-size="17.00" font-weight="bold" text-anchor="middle" fill="#1d1a5c" stroke="#1d1a5c" stroke-width="0.35">31</text>
<text transform="translate(751.77 315.00) scale(0.9500 1)" font-size="17.00" font-weight="bold" text-anchor="middle" fill="#1d1a5c" stroke="#1d1a5c" stroke-width="0.35">32</text>
<text transform="translate(80.13 336.70) scale(0.8650 1)" font-size="15.80" font-weight="bold" text-anchor="middle" fill="#1d1a5c" stroke="#1d1a5c" stroke-width="0.45">M</text>
<text transform="translate(101.80 336.70) scale(0.8650 1)" font-size="15.80" font-weight="bold" text-anchor="middle" fill="#1d1a5c" stroke="#1d1a5c" stroke-width="0.45">H</text>
<text transform="translate(123.46 336.70) scale(0.8650 1)" font-size="15.80" font-weight="bold" text-anchor="middle" fill="#1d1a5c" stroke="#1d1a5c" stroke-width="0.45">H</text>
<text transform="translate(145.13 336.70) scale(0.8650 1)" font-size="15.80" font-weight="bold" text-anchor="middle" fill="#1d1a5c" stroke="#1d1a5c" stroke-width="0.45">M</text>
<text transform="translate(166.80 336.70) scale(0.8650 1)" font-size="15.80" font-weight="bold" text-anchor="middle" fill="#1d1a5c" stroke="#1d1a5c" stroke-width="0.45">L</text>
<text transform="translate(64.50 313.50) scale(1.0200 1)" font-size="14.70" font-weight="bold" text-anchor="end" fill="#1d1a5c" stroke="#1d1a5c" stroke-width="0.50">Day</text>
<text transform="translate(67.30 336.50) scale(0.7800 1)" font-size="15.60" font-weight="bold" text-anchor="end" fill="#1d1a5c" stroke="#1d1a5c" stroke-width="0.60">CM</text>
<text transform="translate(67.30 358.40) scale(0.8750 1)" font-size="14.70" font-weight="bold" text-anchor="end" fill="#1d1a5c" stroke="#1d1a5c" stroke-width="0.50">Stats</text>
<text transform="translate(767.30 313.50) scale(1.0200 1)" font-size="14.70" font-weight="bold" text-anchor="start" fill="#1d1a5c" stroke="#1d1a5c" stroke-width="0.50">Day</text>
<text transform="translate(764.80 336.50) scale(0.7800 1)" font-size="15.60" font-weight="bold" text-anchor="start" fill="#1d1a5c" stroke="#1d1a5c" stroke-width="0.60">CM</text>
<text transform="translate(764.50 358.40) scale(0.8750 1)" font-size="14.70" font-weight="bold" text-anchor="start" fill="#1d1a5c" stroke="#1d1a5c" stroke-width="0.50">Stats</text>
<rect x="47" y="365.80" width="20.5" height="18.3" fill="#d9f77b"/>
<rect x="764.2" y="365.80" width="18.5" height="18.3" fill="#d9f77b"/>
<text transform="translate(57.20 378.80) scale(0.9700 1)" font-size="13.40" font-weight="normal" text-anchor="middle" fill="#2a2a2a">01</text>
<text transform="translate(773.50 378.80) scale(0.9700 1)" font-size="13.40" font-weight="normal" text-anchor="middle" fill="#2a2a2a">01</text>
<rect x="47" y="387.46" width="20.5" height="18.3" fill="#4fa9a7"/>
<rect x="764.2" y="387.46" width="18.5" height="18.3" fill="#4fa9a7"/>
<text transform="translate(57.20 400.46) scale(0.9700 1)" font-size="13.40" font-weight="normal" text-anchor="middle" fill="#1f2a2a">02</text>
<text transform="translate(773.50 400.46) scale(0.9700 1)" font-size="13.40" font-weight="normal" text-anchor="middle" fill="#1f2a2a">02</text>
<rect x="47" y="409.12" width="20.5" height="18.3" fill="#9f4a88"/>
<rect x="764.2" y="409.12" width="18.5" height="18.3" fill="#9f4a88"/>
<text transform="translate(57.20 422.12) scale(0.9700 1)" font-size="13.40" font-weight="normal" text-anchor="middle" fill="#ffffff">03</text>
<text transform="translate(773.50 422.12) scale(0.9700 1)" font-size="13.40" font-weight="normal" text-anchor="middle" fill="#ffffff">03</text>
<rect x="47" y="430.78" width="20.5" height="18.3" fill="#c59cf2"/>
<rect x="764.2" y="430.78" width="18.5" height="18.3" fill="#c59cf2"/>
<text transform="translate(57.20 443.78) scale(0.9700 1)" font-size="13.40" font-weight="normal" text-anchor="middle" fill="#2a2a2a">04</text>
<text transform="translate(773.50 443.78) scale(0.9700 1)" font-size="13.40" font-weight="normal" text-anchor="middle" fill="#2a2a2a">04</text>
<rect x="68.80" y="452.60" width="20.3" height="20.3" fill="#d9f77b"/>
<text transform="translate(78.95 467.00) scale(0.9700 1)" font-size="13.40" font-weight="normal" text-anchor="middle" fill="#2a2a2a">01</text>
<text transform="translate(91.30 467.00) scale(1.0570 1)" font-size="15.00" font-weight="normal" text-anchor="start" fill="#1d1a5c">Vitex Prenatal</text>
<rect x="225.10" y="452.60" width="20.3" height="20.3" fill="#4fa9a7"/>
<text transform="translate(235.25 467.00) scale(0.9700 1)" font-size="13.40" font-weight="normal" text-anchor="middle" fill="#1f2a2a">02</text>
<text transform="translate(247.60 467.00) scale(1.0570 1)" font-size="15.00" font-weight="normal" text-anchor="start" fill="#1d1a5c">Vitamin E</text>
<rect x="341.00" y="452.60" width="20.3" height="20.3" fill="#9f4a88"/>
<text transform="translate(351.15 467.00) scale(0.9700 1)" font-size="13.40" font-weight="normal" text-anchor="middle" fill="#ffffff">03</text>
<text transform="translate(363.50 467.00) scale(1.0570 1)" font-size="15.00" font-weight="normal" text-anchor="start" fill="#1d1a5c">Vitamin C</text>
<rect x="68.80" y="474.10" width="20.3" height="20.3" fill="#c59cf2"/>
<text transform="translate(78.95 488.50) scale(0.9700 1)" font-size="13.40" font-weight="normal" text-anchor="middle" fill="#2a2a2a">04</text>
<text transform="translate(91.30 488.50) scale(1.0570 1)" font-size="15.00" font-weight="normal" text-anchor="start" fill="#1d1a5c">Cramps</text>
</svg></body></html>
